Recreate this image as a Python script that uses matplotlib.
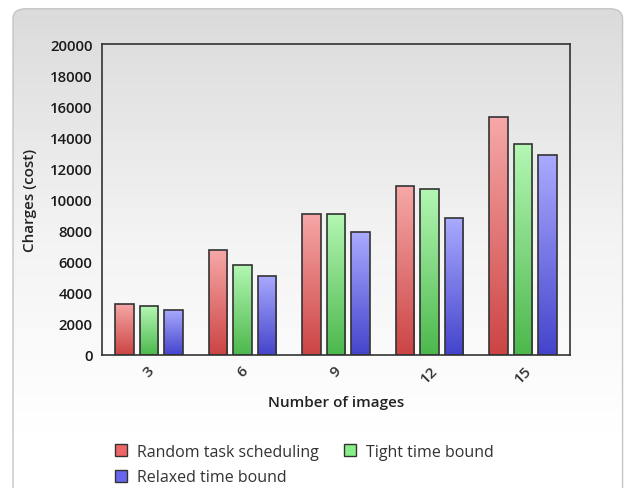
import numpy as np
import matplotlib
matplotlib.use('Agg')
import matplotlib.pyplot as plt
from matplotlib.colors import LinearSegmentedColormap
from matplotlib.patches import FancyBboxPatch, Patch

plt.rcParams['font.family'] = ['Open Sans', 'DejaVu Sans']

# data
images = ['3', '6', '9', '12', '15']
random_sched = [3300, 6750, 9100, 10900, 15300]
tight_bound = [3150, 5800, 9100, 10700, 13550]
relaxed_bound = [2900, 5100, 7900, 8800, 12850]

series = [
    ('Random task scheduling', random_sched, ('#cc4444', '#f7a8a8'), '#ee6666'),
    ('Tight time bound', tight_bound, ('#4cb84c', '#b4f7b4'), '#88ee88'),
    ('Relaxed time bound', relaxed_bound, ('#4444cc', '#aaaaff'), '#6666ee'),
]

fig = plt.figure(figsize=(6.31, 4.89), dpi=100)
fig.patch.set_facecolor('white')

# rounded gray panel with vertical gradient
bg = fig.add_axes([0, 0, 1, 1], zorder=-10)
bg.set_xlim(0, 1)
bg.set_ylim(0, 1)
bg.axis('off')
panel = FancyBboxPatch((0.0206, -0.05), 0.966, 1.03, boxstyle='round,pad=0,rounding_size=0.02',
                       transform=bg.transAxes, facecolor='none', edgecolor='#c4c4c4', lw=1.0, zorder=2)
bg.add_patch(panel)
grad = np.linspace(0, 1, 256).reshape(-1, 1)
panel_cmap = LinearSegmentedColormap.from_list('panel', [(0, '#ffffff'), (0.12, '#ffffff'),
                                                         (0.5, '#f4f4f4'), (1, '#dadada')])
im = bg.imshow(grad, extent=[0, 1, 0, 1], origin='lower', aspect='auto', cmap=panel_cmap, zorder=1)
im.set_clip_path(panel)

ax = fig.add_axes([0.1621, 0.272, 0.7408, 0.6354])
ax.set_facecolor('none')

x = np.arange(len(images))
width = 0.196
step = 0.262
for i, (name, vals, (c_lo, c_hi), _) in enumerate(series):
    cmap = LinearSegmentedColormap.from_list(name, [c_lo, c_hi])
    bars = ax.bar(x + (i - 1) * step, vals, width, facecolor='none', edgecolor='#333333', lw=1.2, zorder=3)
    for b in bars:
        x0, y0 = b.get_x(), b.get_y()
        g = ax.imshow(grad, extent=[x0, x0 + b.get_width(), y0, y0 + b.get_height()],
                      origin='lower', aspect='auto', cmap=cmap, zorder=2)
        g.set_clip_path(b)

ax.set_xlim(-0.5, len(images) - 0.5)
ax.set_ylim(0, 20000)
ax.set_yticks(np.arange(0, 20001, 2000))
ax.set_xticks(x)
ax.set_xticklabels(images, rotation=45, ha='center', fontsize=11, fontweight='semibold', color='#333333')
ax.tick_params(axis='y', length=0, pad=7, labelsize=10.7, labelcolor='#1a1a1a')
ax.tick_params(axis='x', length=0, pad=6)
for lab in ax.get_yticklabels():
    lab.set_fontweight('semibold')
for s in ax.spines.values():
    s.set_color('#333333')
    s.set_linewidth(1.2)

ax.set_xlabel('Number of images', fontsize=11, fontweight='semibold', color='#222222', labelpad=7)
ax.set_ylabel('Charges (cost)', fontsize=11, fontweight='semibold', color='#222222', labelpad=9)

# legend fills by column, so order it to read row by row
order = [0, 2, 1]
handles = [Patch(facecolor=series[k][3], edgecolor='#333333', lw=1.0) for k in order]
labels = [series[k][0] for k in order]
fig.legend(handles, labels, ncol=2, frameon=False, loc='upper left',
           bbox_to_anchor=(0.16, 0.12), fontsize=11.5, handlelength=0.75, handleheight=0.75,
           handletextpad=0.6, columnspacing=1.6, labelspacing=0.6, labelcolor='#333333')

fig.savefig('out.png', dpi=100)
